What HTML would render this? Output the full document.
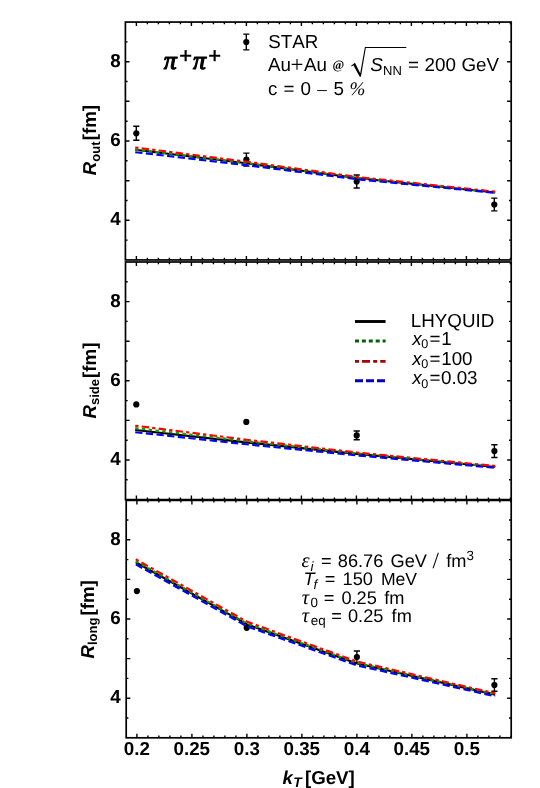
<!DOCTYPE html>
<html><head><meta charset="utf-8"><title>HBT radii</title>
<style>html,body{margin:0;padding:0;background:#fff}svg{display:block;will-change:transform}text{font-family:"Liberation Sans",sans-serif;fill:#000;font-kerning:none;text-rendering:geometricPrecision}.b{font-weight:bold}.i{font-style:italic}.se{font-family:"Liberation Serif",serif}</style></head><body>
<svg width="540" height="788" viewBox="0 0 540 788">
<rect x="0" y="0" width="540" height="788" fill="#fff"/>
<g stroke="#000" stroke-width="1.40" fill="#000">
<path d="M136.3 126.3V140.3M133.2 126.3H139.4M133.2 140.3H139.4" fill="none"/>
<circle cx="136.3" cy="133.3" r="3.1" stroke="none"/>
<path d="M246.4 153.1V166.1M243.3 153.1H249.5M243.3 166.1H249.5" fill="none"/>
<circle cx="246.4" cy="159.6" r="3.1" stroke="none"/>
<path d="M356.7 175.0V188.0M353.6 175.0H359.8M353.6 188.0H359.8" fill="none"/>
<circle cx="356.7" cy="181.5" r="3.1" stroke="none"/>
<path d="M494.3 198.1V210.9M491.2 198.1H497.4M491.2 210.9H497.4" fill="none"/>
<circle cx="494.3" cy="204.5" r="3.1" stroke="none"/>
<circle cx="136.3" cy="404.4" r="3.1" stroke="none"/>
<circle cx="246.3" cy="421.9" r="3.1" stroke="none"/>
<path d="M356.7 431.0V439.8M353.6 431.0H359.8M353.6 439.8H359.8" fill="none"/>
<circle cx="356.7" cy="435.4" r="3.1" stroke="none"/>
<path d="M494.4 444.7V457.5M491.3 444.7H497.5M491.3 457.5H497.5" fill="none"/>
<circle cx="494.4" cy="451.1" r="3.1" stroke="none"/>
<circle cx="136.9" cy="591.1" r="3.1" stroke="none"/>
<circle cx="246.7" cy="627.8" r="3.1" stroke="none"/>
<path d="M356.9 651.0V663.0M353.8 651.0H360.0M353.8 663.0H360.0" fill="none"/>
<circle cx="356.9" cy="657.0" r="3.1" stroke="none"/>
<path d="M494.4 678.8V691.2M491.3 678.8H497.5M491.3 691.2H497.5" fill="none"/>
<circle cx="494.4" cy="685.0" r="3.1" stroke="none"/>
<path d="M246.3 34.1V49.9M243.2 34.1H249.4M243.2 49.9H249.4" fill="none"/>
<circle cx="246.3" cy="42.0" r="3.1" stroke="none"/>
</g>
<g fill="none" stroke-width="2.15" stroke-linejoin="round">
<path d="M135.2 149.7 L246.4 163.3 L356.7 178.0 L495.2 192.5" stroke="#000"/>
<path d="M135.2 430.0 L246.4 442.4 L356.7 453.9 L495.2 467.0" stroke="#000"/>
<path d="M135.8 562.2 L247.2 624.4 L357.0 663.5 L495.2 694.6" stroke="#000"/>
<path d="M135.2 149.4 L246.4 163.0 L356.7 177.8 L495.2 192.4" stroke="#00a400" stroke-dasharray="3.4 3.4"/>
<path d="M135.2 428.1 L246.4 441.2 L356.7 453.3 L495.2 466.8" stroke="#00a400" stroke-dasharray="3.4 3.4"/>
<path d="M135.8 561.2 L247.2 623.6 L357.0 662.9 L495.2 694.2" stroke="#00a400" stroke-dasharray="3.4 3.4"/>
<path d="M135.2 147.5 L246.4 161.7 L356.7 176.9 L495.2 191.7" stroke="#ff0000" stroke-dasharray="3.3 3.2 7.4 3.2"/>
<path d="M135.2 425.7 L246.4 439.7 L356.7 452.5 L495.2 466.0" stroke="#ff0000" stroke-dasharray="3.3 3.2 7.4 3.2"/>
<path d="M135.8 559.3 L247.2 621.8 L357.0 661.5 L495.2 693.4" stroke="#ff0000" stroke-dasharray="3.3 3.2 7.4 3.2"/>
<path d="M135.2 152.2 L246.4 165.2 L356.7 179.2 L495.2 192.9" stroke="#0000ff" stroke-dasharray="7.3 3.4"/>
<path d="M135.2 432.2 L246.4 444.3 L356.7 455.4 L495.2 467.8" stroke="#0000ff" stroke-dasharray="7.3 3.4"/>
<path d="M135.8 564.4 L247.2 626.4 L357.0 665.4 L495.2 696.3" stroke="#0000ff" stroke-dasharray="7.3 3.4"/>
</g>
<g fill="none" stroke="#000" stroke-width="1.7">
<rect x="125.4" y="22.05" width="385.80" height="237.90"/>
<rect x="125.5" y="262.0" width="385.70" height="237.60"/>
<rect x="126.2" y="500.4" width="385.00" height="237.40"/>
</g>
<path d="M136.4 22.05v4.0M136.4 259.95v-4.0M147.4 22.05v2.2M147.4 259.95v-2.2M158.4 22.05v2.2M158.4 259.95v-2.2M169.4 22.05v2.2M169.4 259.95v-2.2M180.4 22.05v2.2M180.4 259.95v-2.2M191.4 22.05v4.0M191.4 259.95v-4.0M202.4 22.05v2.2M202.4 259.95v-2.2M213.4 22.05v2.2M213.4 259.95v-2.2M224.4 22.05v2.2M224.4 259.95v-2.2M235.4 22.05v2.2M235.4 259.95v-2.2M246.4 22.05v4.0M246.4 259.95v-4.0M257.4 22.05v2.2M257.4 259.95v-2.2M268.4 22.05v2.2M268.4 259.95v-2.2M279.4 22.05v2.2M279.4 259.95v-2.2M290.4 22.05v2.2M290.4 259.95v-2.2M301.4 22.05v4.0M301.4 259.95v-4.0M312.4 22.05v2.2M312.4 259.95v-2.2M323.4 22.05v2.2M323.4 259.95v-2.2M334.4 22.05v2.2M334.4 259.95v-2.2M345.4 22.05v2.2M345.4 259.95v-2.2M356.4 22.05v4.0M356.4 259.95v-4.0M367.4 22.05v2.2M367.4 259.95v-2.2M378.4 22.05v2.2M378.4 259.95v-2.2M389.4 22.05v2.2M389.4 259.95v-2.2M400.4 22.05v2.2M400.4 259.95v-2.2M411.4 22.05v4.0M411.4 259.95v-4.0M422.4 22.05v2.2M422.4 259.95v-2.2M433.4 22.05v2.2M433.4 259.95v-2.2M444.4 22.05v2.2M444.4 259.95v-2.2M455.4 22.05v2.2M455.4 259.95v-2.2M466.4 22.05v4.0M466.4 259.95v-4.0M477.4 22.05v2.2M477.4 259.95v-2.2M488.4 22.05v2.2M488.4 259.95v-2.2M499.4 22.05v2.2M499.4 259.95v-2.2M510.4 22.05v2.2M510.4 259.95v-2.2M125.4 240.1h2.2M511.2 240.1h-2.2M125.4 220.3h4.1M511.2 220.3h-4.1M125.4 200.5h2.2M511.2 200.5h-2.2M125.4 180.7h4.1M511.2 180.7h-4.1M125.4 160.8h2.2M511.2 160.8h-2.2M125.4 141.0h4.1M511.2 141.0h-4.1M125.4 121.2h2.2M511.2 121.2h-2.2M125.4 101.3h4.1M511.2 101.3h-4.1M125.4 81.5h2.2M511.2 81.5h-2.2M125.4 61.7h4.1M511.2 61.7h-4.1M125.4 41.9h2.2M511.2 41.9h-2.2M136.4 262.00v4.0M136.4 499.60v-4.0M147.4 262.00v2.2M147.4 499.60v-2.2M158.4 262.00v2.2M158.4 499.60v-2.2M169.4 262.00v2.2M169.4 499.60v-2.2M180.4 262.00v2.2M180.4 499.60v-2.2M191.4 262.00v4.0M191.4 499.60v-4.0M202.4 262.00v2.2M202.4 499.60v-2.2M213.4 262.00v2.2M213.4 499.60v-2.2M224.4 262.00v2.2M224.4 499.60v-2.2M235.4 262.00v2.2M235.4 499.60v-2.2M246.4 262.00v4.0M246.4 499.60v-4.0M257.4 262.00v2.2M257.4 499.60v-2.2M268.4 262.00v2.2M268.4 499.60v-2.2M279.4 262.00v2.2M279.4 499.60v-2.2M290.4 262.00v2.2M290.4 499.60v-2.2M301.4 262.00v4.0M301.4 499.60v-4.0M312.4 262.00v2.2M312.4 499.60v-2.2M323.4 262.00v2.2M323.4 499.60v-2.2M334.4 262.00v2.2M334.4 499.60v-2.2M345.4 262.00v2.2M345.4 499.60v-2.2M356.4 262.00v4.0M356.4 499.60v-4.0M367.4 262.00v2.2M367.4 499.60v-2.2M378.4 262.00v2.2M378.4 499.60v-2.2M389.4 262.00v2.2M389.4 499.60v-2.2M400.4 262.00v2.2M400.4 499.60v-2.2M411.4 262.00v4.0M411.4 499.60v-4.0M422.4 262.00v2.2M422.4 499.60v-2.2M433.4 262.00v2.2M433.4 499.60v-2.2M444.4 262.00v2.2M444.4 499.60v-2.2M455.4 262.00v2.2M455.4 499.60v-2.2M466.4 262.00v4.0M466.4 499.60v-4.0M477.4 262.00v2.2M477.4 499.60v-2.2M488.4 262.00v2.2M488.4 499.60v-2.2M499.4 262.00v2.2M499.4 499.60v-2.2M510.4 262.00v2.2M510.4 499.60v-2.2M125.5 479.8h2.2M511.2 479.8h-2.2M125.5 460.0h4.1M511.2 460.0h-4.1M125.5 440.2h2.2M511.2 440.2h-2.2M125.5 420.4h4.1M511.2 420.4h-4.1M125.5 400.6h2.2M511.2 400.6h-2.2M125.5 380.8h4.1M511.2 380.8h-4.1M125.5 361.0h2.2M511.2 361.0h-2.2M125.5 341.2h4.1M511.2 341.2h-4.1M125.5 321.4h2.2M511.2 321.4h-2.2M125.5 301.6h4.1M511.2 301.6h-4.1M125.5 281.8h2.2M511.2 281.8h-2.2M136.9 500.40v4.0M136.9 737.80v-4.0M147.9 500.40v2.2M147.9 737.80v-2.2M158.9 500.40v2.2M158.9 737.80v-2.2M169.9 500.40v2.2M169.9 737.80v-2.2M180.9 500.40v2.2M180.9 737.80v-2.2M191.9 500.40v4.0M191.9 737.80v-4.0M202.9 500.40v2.2M202.9 737.80v-2.2M213.9 500.40v2.2M213.9 737.80v-2.2M224.9 500.40v2.2M224.9 737.80v-2.2M235.9 500.40v2.2M235.9 737.80v-2.2M246.9 500.40v4.0M246.9 737.80v-4.0M257.9 500.40v2.2M257.9 737.80v-2.2M268.9 500.40v2.2M268.9 737.80v-2.2M279.9 500.40v2.2M279.9 737.80v-2.2M290.9 500.40v2.2M290.9 737.80v-2.2M301.9 500.40v4.0M301.9 737.80v-4.0M312.9 500.40v2.2M312.9 737.80v-2.2M323.9 500.40v2.2M323.9 737.80v-2.2M334.9 500.40v2.2M334.9 737.80v-2.2M345.9 500.40v2.2M345.9 737.80v-2.2M356.9 500.40v4.0M356.9 737.80v-4.0M367.9 500.40v2.2M367.9 737.80v-2.2M378.9 500.40v2.2M378.9 737.80v-2.2M389.9 500.40v2.2M389.9 737.80v-2.2M400.9 500.40v2.2M400.9 737.80v-2.2M411.9 500.40v4.0M411.9 737.80v-4.0M422.9 500.40v2.2M422.9 737.80v-2.2M433.9 500.40v2.2M433.9 737.80v-2.2M444.9 500.40v2.2M444.9 737.80v-2.2M455.9 500.40v2.2M455.9 737.80v-2.2M466.9 500.40v4.0M466.9 737.80v-4.0M477.9 500.40v2.2M477.9 737.80v-2.2M488.9 500.40v2.2M488.9 737.80v-2.2M499.9 500.40v2.2M499.9 737.80v-2.2M510.9 500.40v2.2M510.9 737.80v-2.2M126.2 718.0h2.2M511.2 718.0h-2.2M126.2 698.2h4.1M511.2 698.2h-4.1M126.2 678.4h2.2M511.2 678.4h-2.2M126.2 658.6h4.1M511.2 658.6h-4.1M126.2 638.8h2.2M511.2 638.8h-2.2M126.2 619.0h4.1M511.2 619.0h-4.1M126.2 599.2h2.2M511.2 599.2h-2.2M126.2 579.4h4.1M511.2 579.4h-4.1M126.2 559.6h2.2M511.2 559.6h-2.2M126.2 539.8h4.1M511.2 539.8h-4.1M126.2 520.0h2.2M511.2 520.0h-2.2" fill="none" stroke="#000" stroke-width="1.4"/>
<g class="b" font-size="18.8" text-anchor="end">
<text x="120.8" y="66.7">8</text>
<text x="120.8" y="146.0">6</text>
<text x="120.8" y="225.3">4</text>
<text x="120.8" y="306.6">8</text>
<text x="120.8" y="385.8">6</text>
<text x="120.8" y="465.0">4</text>
<text x="120.8" y="544.8">8</text>
<text x="120.8" y="624.0">6</text>
<text x="120.8" y="703.2">4</text>
</g>
<g class="b" font-size="18.8" text-anchor="middle">
<text x="136.8" y="755.4">0.2</text>
<text x="191.8" y="755.4">0.25</text>
<text x="246.8" y="755.4">0.3</text>
<text x="301.8" y="755.4">0.35</text>
<text x="356.8" y="755.4">0.4</text>
<text x="411.8" y="755.4">0.45</text>
<text x="466.8" y="755.4">0.5</text>
</g>
<text class="b" font-size="18.7" transform="translate(96.3,175.2) rotate(-90)"><tspan class="i">R</tspan><tspan font-size="13.0" dy="3.2">out</tspan><tspan dy="-3.2" dx="1.2">[fm]</tspan></text>
<text class="b" font-size="18.7" transform="translate(96.0,418.6) rotate(-90)"><tspan class="i">R</tspan><tspan font-size="13.0" dy="3.2">side</tspan><tspan dy="-3.2" dx="1.2">[fm]</tspan></text>
<text class="b" font-size="18.7" transform="translate(93.7,658.6) rotate(-90)"><tspan class="i">R</tspan><tspan font-size="13.0" dy="3.2">long</tspan><tspan dy="-3.2" dx="2.2">[fm]</tspan></text>
<text class="b" font-size="18.7" x="282.4" y="783.6"><tspan class="i">k</tspan><tspan class="i" font-size="13.8" dx="0.5" dy="3.2">T</tspan><tspan dy="-3.2" dx="3.2">[GeV]</tspan></text>
<text class="se i" font-size="26" x="163.8" y="69.4" stroke="#000" stroke-width="1.1" stroke-linejoin="round">&#960;</text>
<text class="se i" font-size="26" x="193.0" y="69.4" stroke="#000" stroke-width="1.1" stroke-linejoin="round">&#960;</text>
<text font-size="22" x="179.2" y="62.7" stroke="#000" stroke-width="0.45">+</text>
<text font-size="22" x="208.3" y="62.7" stroke="#000" stroke-width="0.45">+</text>
<text font-size="18.8" x="268.3" y="47.9">STAR</text>
<text font-size="18.8" x="267.9" y="71.3">Au</text>
<text class="se" font-size="23" x="290.5" y="72.3">+</text>
<text font-size="18.8" x="303.9" y="71.3">Au</text>
<text class="se b" font-size="12.6" x="332.6" y="69.3">@</text>
<path d="M351.1 65.7L355.0 62.8L360.2 73.2L364.9 46.9H406.3V48.0H365.8L360.9 76.8H359.7L353.4 65.3L351.7 66.5Z" fill="#000"/>
<text class="i" font-size="18.8" x="370.2" y="71.3">S</text>
<text font-size="13.0" x="383.0" y="74.7">NN</text>
<text font-size="18.8" x="408.0" y="71.3">=</text>
<text font-size="18.8" x="424.6" y="71.3">200</text>
<text font-size="18.8" x="461.4" y="71.3">GeV</text>
<text font-size="18.8" x="268.0" y="94.8">c</text>
<text font-size="18.8" x="283.6" y="94.8">=</text>
<text font-size="18.8" x="300.4" y="94.8">0</text>
<text class="se" font-size="19" x="317.2" y="94.8">&#8211;</text>
<text font-size="18.8" x="333.6" y="94.8">5</text>
<text class="se i" font-size="19" x="349.6" y="94.8">%</text>
<g fill="none" stroke-width="2.9">
<path d="M355 321.5H385.6" stroke="#000"/>
<path d="M355 341.0H385.6" stroke="#006400" stroke-dasharray="4 2.9"/>
<path d="M355 361.4H385.6" stroke="#a80000" stroke-dasharray="4 3 8 3.2"/>
<path d="M355 380.7H385.6" stroke="#0000b8" stroke-dasharray="8 3"/>
</g>
<text font-size="18.8" x="410.8" y="327.1">LHYQUID</text>
<text class="i" font-size="18.8" x="412.2" y="344.5">x</text>
<text font-size="12.6" x="421.2" y="348.1">0</text>
<text font-size="18.8" x="429.4" y="344.5">=</text>
<text font-size="18.8" x="441.2" y="344.5">1</text>
<text class="i" font-size="18.8" x="412.2" y="364.6">x</text>
<text font-size="12.6" x="421.2" y="368.20000000000005">0</text>
<text font-size="18.8" x="429.4" y="364.6">=</text>
<text font-size="18.8" x="441.2" y="364.6">100</text>
<text class="i" font-size="18.8" x="412.2" y="384.1">x</text>
<text font-size="12.6" x="421.2" y="387.70000000000005">0</text>
<text font-size="18.8" x="429.4" y="384.1">=</text>
<text font-size="18.8" x="441.0" y="384.1">0.03</text>
<text class="se i" font-size="20.5" x="301.6" y="567.3">&#949;</text>
<text class="i" font-size="13.4" x="310.6" y="570.5">i</text>
<text font-size="18.2" x="321.0" y="567.3">=</text>
<text font-size="18.2" x="337.8" y="567.3">86.76</text>
<text font-size="18.2" x="390.6" y="567.3">GeV</text>
<text class="se" font-size="23" x="432.6" y="568.3">/</text>
<text font-size="18.2" x="446.2" y="567.3">fm</text>
<text font-size="13.4" x="466.6" y="560.0999999999999">3</text>
<text class="i" font-size="18.2" x="303.4" y="585.4">T</text>
<text class="i" font-size="13.4" x="313.4" y="588.8">f</text>
<text font-size="18.2" x="324.8" y="585.4">=</text>
<text font-size="18.2" x="342.6" y="585.4">150</text>
<text font-size="17.6" x="380.9" y="585.4">MeV</text>
<text class="se i" font-size="20.5" x="301.8" y="603.7">&#964;</text>
<text font-size="13.4" x="310.4" y="607.1">0</text>
<text font-size="18.2" x="323.8" y="603.7">=</text>
<text font-size="18.2" x="341.4" y="603.7">0.25</text>
<text font-size="18.2" x="384.2" y="603.7">fm</text>
<text class="se i" font-size="20.5" x="301.8" y="621.9">&#964;</text>
<text font-size="13.4" x="310.8" y="625.3">eq</text>
<text font-size="18.2" x="331.2" y="621.9">=</text>
<text font-size="18.2" x="348.0" y="621.9">0.25</text>
<text font-size="18.2" x="391.6" y="621.9">fm</text>
</svg></body></html>
